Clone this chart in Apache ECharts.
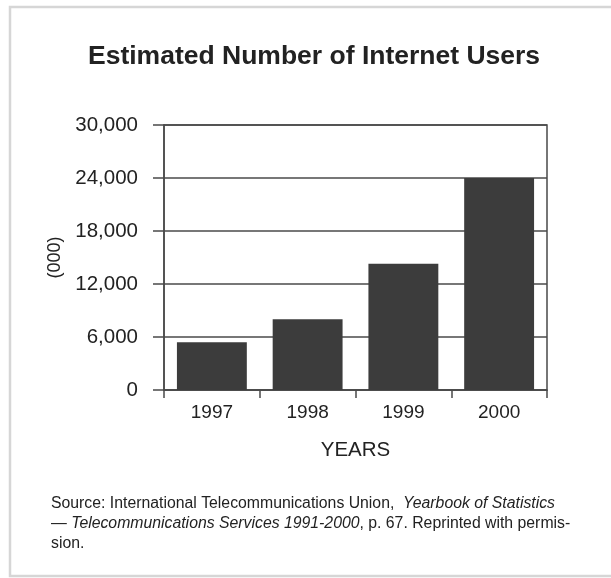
<!DOCTYPE html>
<html>
<head>
<meta charset="utf-8">
<script src="https://cdn.jsdelivr.net/npm/echarts@6/dist/echarts.min.js"></script>
<style>
html,body{margin:0;padding:0;background:#fff;}
#c{width:611px;height:578px;}
</style>
</head>
<body>
<div id="c"></div>
<script>
const categories = ['1997', '1998', '1999', '2000'];
const users = [5400, 8000, 14300, 24000];
const yTicks = [0, 6000, 12000, 18000, 24000, 30000];
const titleText = 'Estimated Number of Internet Users';
const xAxisName = 'YEARS';
const yAxisName = '(000)';

const chart = echarts.init(document.getElementById('c'), null, {renderer: 'canvas'});
const font = '"Liberation Sans", Arial, Helvetica, sans-serif';
const ink = '#222';
const lineC = '#4a4a4a';

chart.setOption({
  backgroundColor: '#fff',
  animation: false,
  textStyle: {fontFamily: font},
  title: [
    {
      text: titleText,
      left: 83,
      top: 38,
      textStyle: {fontSize: 26.5, fontWeight: 'bold', color: ink, fontFamily: font}
    },
    {
      text: '{n|Source: International Telecommunications Union,  }{i|Yearbook of Statistics}\n{n|— }{i|Telecommunications Services 1991-2000}{n|, p. 67. Reprinted with permis-}\n{n|sion.}',
      left: 46,
      top: 489,
      textStyle: {
        fontFamily: font,
        fontWeight: 'normal',
        lineHeight: 20,
        rich: {
          n: {fontSize: 15.8, color: ink, fontWeight: 'normal', fontFamily: font, lineHeight: 20},
          i: {fontSize: 15.8, color: ink, fontWeight: 'normal', fontStyle: 'italic', fontFamily: font, lineHeight: 20}
        }
      }
    }
  ],
  graphic: [
    {
      type: 'rect',
      silent: true,
      shape: {x: 10, y: 7, width: 610, height: 569},
      style: {fill: 'none', stroke: '#d6d6d6', lineWidth: 2.5}
    }
  ],
  grid: {
    left: 164,
    right: 64,
    top: 125,
    bottom: 188,
    show: true,
    borderColor: lineC,
    borderWidth: 1.5,
    backgroundColor: 'transparent'
  },
  xAxis: {
    type: 'category',
    data: categories,
    name: xAxisName,
    nameLocation: 'middle',
    nameGap: 50,
    nameTextStyle: {fontSize: 20.5, color: ink, fontFamily: font},
    axisLine: {show: true, lineStyle: {color: lineC, width: 1.5}},
    axisTick: {show: true, length: 8, lineStyle: {color: lineC, width: 1.5}},
    axisLabel: {fontSize: 19, color: ink, margin: 13, fontFamily: font},
    splitLine: {show: false}
  },
  yAxis: {
    type: 'value',
    min: yTicks[0],
    max: yTicks[yTicks.length - 1],
    interval: yTicks[1] - yTicks[0],
    name: yAxisName,
    nameLocation: 'middle',
    nameRotate: 90,
    nameGap: 94,
    nameTextStyle: {fontSize: 18, color: ink, fontFamily: font},
    axisLine: {show: true, lineStyle: {color: lineC, width: 1.5}},
    axisTick: {show: true, length: 11, lineStyle: {color: lineC, width: 1.5}},
    axisLabel: {
      fontSize: 20.5, color: ink, margin: 26, fontFamily: font,
      formatter: v => v.toLocaleString('en-US')
    },
    splitLine: {show: true, lineStyle: {color: lineC, width: 1.5}}
  },
  series: [
    {
      type: 'bar',
      data: users,
      barCategoryGap: '27%',
      itemStyle: {color: '#3c3c3c'}
    }
  ]
});
</script>
</body>
</html>
